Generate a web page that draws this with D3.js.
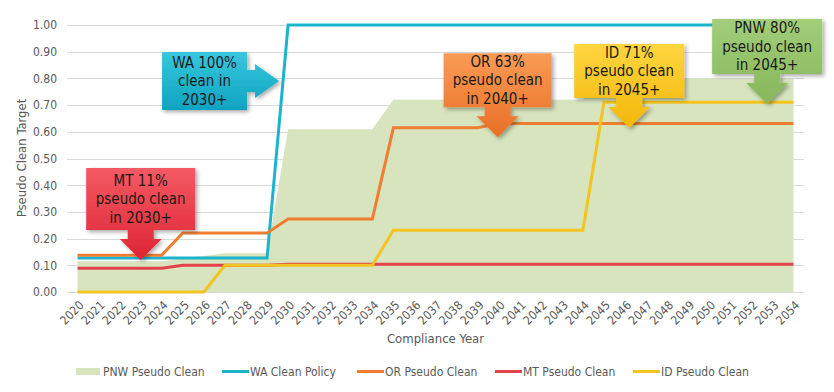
<!DOCTYPE html>
<html>
<head>
<meta charset="utf-8">
<script src="https://cdn.jsdelivr.net/npm/d3@7"></script>
<style>
  html, body { margin: 0; padding: 0; background: #ffffff; }
  svg { display: block; font-family: "DejaVu Sans Condensed", "DejaVu Sans", sans-serif; }
</style>
</head>
<body>
<svg id="chart" width="834" height="392"></svg>
<script>
// ---------------- DATA ----------------
const years = d3.range(2020, 2055).map(String);
const pnwPseudoClean = [0.115,0.115,0.115,0.115,0.115,0.125,0.135,0.145,0.145,0.145,
  0.61,0.61,0.61,0.61,0.61,0.72,0.72,0.72,0.72,0.72,0.72,0.72,0.72,0.72,0.72,
  0.80,0.80,0.80,0.80,0.80,0.80,0.80,0.80,0.80,0.80];
const waCleanPolicy = [0.127,0.127,0.127,0.127,0.127,0.127,0.127,0.127,0.127,0.127,
  1,1,1,1,1,1,1,1,1,1,1,1,1,1,1,1,1,1,1,1,1,1,1,1,1];
const orPseudoClean = [0.138,0.138,0.138,0.138,0.138,0.221,0.221,0.221,0.221,0.221,
  0.273,0.273,0.273,0.273,0.273,0.615,0.615,0.615,0.615,0.615,
  0.631,0.631,0.631,0.631,0.631,0.631,0.631,0.631,0.631,0.631,0.631,0.631,0.631,0.631,0.631];
const mtPseudoClean = [0.089,0.089,0.089,0.089,0.089,0.100,0.100,0.100,0.100,0.100,
  0.104,0.104,0.104,0.104,0.104,0.104,0.104,0.104,0.104,0.104,0.104,0.104,0.104,0.104,0.104,
  0.104,0.104,0.104,0.104,0.104,0.104,0.104,0.104,0.104,0.104];
const idPseudoClean = [0,0,0,0,0,0,0,0.100,0.100,0.100,0.100,0.100,0.100,0.100,0.100,
  0.231,0.231,0.231,0.231,0.231,0.231,0.231,0.231,0.231,0.231,
  0.711,0.711,0.711,0.711,0.711,0.711,0.711,0.711,0.711,0.711];
const yTicks = [0,0.1,0.2,0.3,0.4,0.5,0.6,0.7,0.8,0.9,1.0];

const seriesNames = ["PNW Pseudo Clean","WA Clean Policy","OR Pseudo Clean","MT Pseudo Clean","ID Pseudo Clean"];
const seriesColors = ["#d7e4bd","#1cb4cc","#ef7e33","#e3424c","#f3c322"];

// callouts: text lines, anchor (year, value) where the arrow tip points, direction
const calloutText = [
  ["WA 100%","clean in","2030+"],
  ["MT 11%","pseudo clean","in 2030+"],
  ["OR 63%","pseudo clean","in 2040+"],
  ["ID 71%","pseudo clean","in 2045+"],
  ["PNW 80%","pseudo clean","in 2045+"]
];
const calloutYear = [2029.57, 2023.0, 2039.95, 2046.2, 2052.75];
const calloutValue = [0.79, 0.12, 0.58, 0.614, 0.704];
const calloutDir = ["right","down","down","down","down"];
const calloutTop = ["#38c7de","#f45a64","#f99b55","#ffd53f","#a2cd7a"];
const calloutBottom = ["#0fa3c0","#de2433","#ea6f26","#f3b70a","#87b65a"];

// ---------------- CHART ----------------
const svg = d3.select("#chart");
const x = d3.scaleBand().domain(years).range([67, 804]).padding(0);
const xc = d => x(d) + x.bandwidth() / 2;
const xYear = d3.scaleLinear().domain([2020, 2054]).range([xc("2020"), xc("2054")]);
const y = d3.scaleLinear().domain([0, 1]).range([292, 25]);

const defs = svg.append("defs");
const shadow = defs.append("filter").attr("id","shadow")
  .attr("x","-20%").attr("y","-20%").attr("width","150%").attr("height","150%");
shadow.append("feDropShadow").attr("dx",2).attr("dy",2).attr("stdDeviation",2)
  .attr("flood-color","#000").attr("flood-opacity",0.35);

calloutTop.forEach((c, i) => {
  const g = defs.append("linearGradient").attr("id","grad"+i)
    .attr("x1",0).attr("y1",0).attr("x2",0).attr("y2",1);
  g.append("stop").attr("offset","0%").attr("stop-color", c);
  g.append("stop").attr("offset","100%").attr("stop-color", calloutBottom[i]);
});

// gridlines
svg.append("g").selectAll("line").data(yTicks).join("line")
  .attr("x1", 67).attr("x2", 804)
  .attr("y1", d => Math.round(y(d)) + 0.5).attr("y2", d => Math.round(y(d)) + 0.5)
  .attr("stroke", "#d9d9d9").attr("stroke-width", 1);

// y axis labels
const yAxis = d3.axisLeft(y).tickValues(yTicks).tickFormat(d3.format(".2f")).tickSize(0).tickPadding(10);
const yg = svg.append("g").attr("transform","translate(67,0)").call(yAxis);
yg.select(".domain").remove();
yg.selectAll("text").attr("fill","#595959").style("font-size","12px")
  .style("font-family","'DejaVu Sans Condensed', sans-serif");

// x axis labels
const xAxis = d3.axisBottom(x).tickSize(0).tickPadding(0);
const xg = svg.append("g").attr("transform","translate(0,292)").call(xAxis);
xg.select(".domain").remove();
xg.selectAll("text").attr("fill","#595959").style("font-size","12px")
  .style("font-family","'DejaVu Sans Condensed', sans-serif")
  .attr("text-anchor","end").attr("dy","0.35em")
  .attr("transform","translate(4,11) rotate(-45)");

// area
const pnwData = years.map((yr, i) => ({yr, v: pnwPseudoClean[i]}));
svg.append("path").datum(pnwData)
  .attr("fill", seriesColors[0])
  .attr("d", d3.area().x(d => xc(d.yr)).y0(y(0)).y1(d => y(d.v)));

// lines
const lineSeries = [waCleanPolicy, orPseudoClean, mtPseudoClean, idPseudoClean];
const line = d3.line().x(d => xc(d.yr)).y(d => y(d.v));
lineSeries.forEach((vals, k) => {
  svg.append("path").datum(years.map((yr, i) => ({yr, v: vals[i]})))
    .attr("fill","none").attr("stroke", seriesColors[k+1]).attr("stroke-width", 3)
    .attr("stroke-linejoin","miter").attr("d", line);
});

// axis titles
svg.append("text").attr("transform","translate(26,158) rotate(-90)")
  .attr("text-anchor","middle").attr("fill","#595959").style("font-size","13px")
  .text("Pseudo Clean Target");
svg.append("text").attr("x", 435.5).attr("y", 343)
  .attr("text-anchor","middle").attr("fill","#595959").style("font-size","13px")
  .text("Compliance Year");

// legend
const legendX = [76, 222, 357, 495, 633];
const lg = svg.append("g");
seriesNames.forEach((name, i) => {
  const gx = legendX[i];
  if (i === 0) {
    lg.append("rect").attr("x", gx).attr("y", 368).attr("width", 24).attr("height", 7).attr("fill", seriesColors[0]);
  } else {
    lg.append("line").attr("x1", gx).attr("x2", gx + 27).attr("y1", 371.5).attr("y2", 371.5)
      .attr("stroke", seriesColors[i]).attr("stroke-width", 3);
  }
  lg.append("text").attr("x", gx + (i === 0 ? 27 : 28)).attr("y", 371.5).attr("dy","0.35em")
    .attr("fill","#595959").style("font-size","12px").text(name);
});

// callouts
const boxW = [85, 109, 108, 110, 110];
const boxH = [58, 62, 54, 54, 55];
calloutText.forEach((lines, i) => {
  const tx = xYear(calloutYear[i]);
  const ty = y(calloutValue[i]);
  const w = boxW[i], h = boxH[i];
  let pts, bx, by;
  if (calloutDir[i] === "down") {
    const headH = 21, shaftH = 9, headW = 42, shaftW = 26;
    by = ty - headH - shaftH - h; bx = tx - w / 2;
    pts = [[bx,by],[bx+w,by],[bx+w,by+h],[tx+shaftW/2,by+h],[tx+shaftW/2,by+h+shaftH],
      [tx+headW/2,by+h+shaftH],[tx,ty],[tx-headW/2,by+h+shaftH],[tx-shaftW/2,by+h+shaftH],
      [tx-shaftW/2,by+h],[bx,by+h]];
  } else {
    const headW = 24, shaftW = 8, headH = 34, shaftH = 22;
    bx = tx - headW - shaftW - w; by = ty - h / 2;
    const rx = bx + w;
    pts = [[bx,by],[rx,by],[rx,ty-shaftH/2],[rx+shaftW,ty-shaftH/2],[rx+shaftW,ty-headH/2],
      [tx,ty],[rx+shaftW,ty+headH/2],[rx+shaftW,ty+shaftH/2],[rx,ty+shaftH/2],[rx,by+h],[bx,by+h]];
  }
  const g = svg.append("g");
  g.append("path").attr("d", "M" + pts.map(p => p.join(",")).join("L") + "Z")
    .attr("fill", `url(#grad${i})`).attr("filter","url(#shadow)");
  const cx = bx + w / 2;
  const lineGap = 18.5;
  const startY = by + h / 2 - lineGap;
  lines.forEach((t, j) => {
    g.append("text").attr("x", cx).attr("y", startY + j * lineGap).attr("dy","0.35em")
      .attr("text-anchor","middle").attr("fill","#1a1a1a").style("font-size","15px").text(t);
  });
});
</script>
</body>
</html>
